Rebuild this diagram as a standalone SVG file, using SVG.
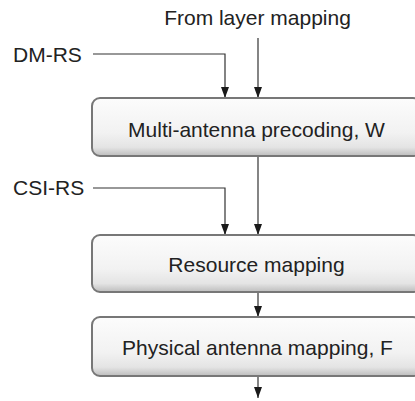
<svg xmlns="http://www.w3.org/2000/svg" width="415" height="401" viewBox="0 0 415 401">
<defs>
<linearGradient id="g" x1="0" y1="0" x2="0" y2="1">
<stop offset="0" stop-color="#fcfcfc"/>
<stop offset="0.6" stop-color="#f2f2f2"/>
<stop offset="0.85" stop-color="#e4e4e4"/>
<stop offset="1" stop-color="#bdbdbd"/>
</linearGradient>
<marker id="ah" viewBox="0 0 11 8" refX="11" refY="4" markerWidth="11" markerHeight="8" markerUnits="userSpaceOnUse" orient="auto">
<path d="M0,0 L11,4 L0,8 Z" fill="#1a1a1a"/>
</marker>
</defs>
<style>
.box{fill:url(#g);stroke:#777;stroke-width:2}
.lbl{font-family:"Liberation Sans",Arial,sans-serif;font-size:21px;fill:#222}
.c{fill:none;stroke:#333;stroke-width:1.2}
</style>
<rect width="415" height="401" fill="#fff"/>
<g id="connectors">
<path class="c" d="M258,38 V98" marker-end="url(#ah)"/>
<path class="c" d="M93,54 H225 V98" marker-end="url(#ah)"/>
<path class="c" d="M258,157 V235" marker-end="url(#ah)"/>
<path class="c" d="M93,188 H225 V235" marker-end="url(#ah)"/>
<path class="c" d="M258,292 V317" marker-end="url(#ah)"/>
<path class="c" d="M258,377 V398" marker-end="url(#ah)"/>
</g>
<g id="lbl-layer"><text class="lbl" x="257.5" y="25" text-anchor="middle">From layer mapping</text></g>
<g id="lbl-dmrs"><text class="lbl" x="13" y="62">DM-RS</text></g>
<g id="lbl-csirs"><text class="lbl" x="13" y="195">CSI-RS</text></g>
<g id="precoding">
<rect class="box" x="92" y="98" width="329" height="58" rx="8"/>
<text class="lbl" x="256.5" y="137" text-anchor="middle">Multi-antenna precoding, W</text>
</g>
<g id="resource">
<rect class="box" x="92" y="235" width="329" height="57" rx="8"/>
<text class="lbl" x="256.5" y="272" text-anchor="middle">Resource mapping</text>
</g>
<g id="physical">
<rect class="box" x="92" y="317" width="329" height="59" rx="8"/>
<text class="lbl" x="257.5" y="355" text-anchor="middle">Physical antenna mapping, F</text>
</g>
</svg>
